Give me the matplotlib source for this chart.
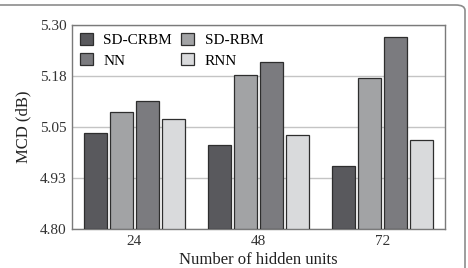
import matplotlib
matplotlib.use("Agg")
import matplotlib.pyplot as plt
import numpy as np
from matplotlib.patches import FancyBboxPatch

plt.rcParams['font.family'] = ['Liberation Serif', 'DejaVu Serif']

groups = ['24', '48', '72']
series = ['SD-CRBM', 'SD-RBM', 'NN', 'RNN']
sd_crbm = [5.035, 5.006, 4.954]
sd_rbm = [5.087, 5.177, 5.170]
nn = [5.114, 5.209, 5.271]
rnn = [5.070, 5.030, 5.018]
yticks = [4.80, 4.925, 5.05, 5.175, 5.30]
ytick_labels = ['4.80', '4.93', '5.05', '5.18', '5.30']

colors = ['#59595d', '#a2a3a5', '#7b7b7f', '#d9dadc']

fig = plt.figure(figsize=(4.68, 2.68), dpi=100)
ax = fig.add_axes([72 / 468, 1 - 229 / 268, 373 / 468, 204 / 268])

# panel frame (top and right edges visible)
frame = FancyBboxPatch((-20 / 468, -20 / 268), 485 / 468, 283 / 268,
                       boxstyle="round,pad=0,rounding_size=0.02",
                       transform=fig.transFigure, fill=False,
                       edgecolor='#8c8c8c', linewidth=1.2, zorder=0)
fig.patches.append(frame)

x = np.arange(len(groups))
slot = 0.21
width = 0.185
bars = []
for i, (vals, c) in enumerate(zip([sd_crbm, sd_rbm, nn, rnn], colors)):
    b = ax.bar(x + (i - 1.5) * slot, np.array(vals) - 4.80, width, bottom=4.80,
               color=c, edgecolor='#2e2e2e', linewidth=0.9, label=series[i], zorder=3)
    bars.append(b)

ax.set_xlim(-0.5, 2.5)
ax.set_ylim(4.80, 5.30)
ax.set_xticks(x)
ax.set_xticklabels(groups)
ax.set_yticks(yticks)
ax.set_yticklabels(ytick_labels)
ax.tick_params(length=0, labelsize=11, colors='#333333', pad=4)
ax.yaxis.grid(True, color='#c4c4c4', linewidth=1.0, zorder=0)
ax.set_axisbelow(True)
for s in ax.spines.values():
    s.set_color('#7a7a7a')
    s.set_linewidth(1.0)

ax.set_xlabel('Number of hidden units', fontsize=12, color='#222222', labelpad=3)
ax.set_ylabel('MCD (dB)', fontsize=12, color='#222222', labelpad=6)

order = [0, 2, 1, 3]
ax.legend([bars[k] for k in order], [series[k] for k in order], ncol=2,
          loc='upper left', frameon=False, fontsize=11,
          handlelength=0.85, handleheight=0.85, columnspacing=0.6,
          handletextpad=0.7, labelspacing=0.4, borderaxespad=0.2,
          borderpad=0.3)

fig.savefig('out.png', dpi=100)
